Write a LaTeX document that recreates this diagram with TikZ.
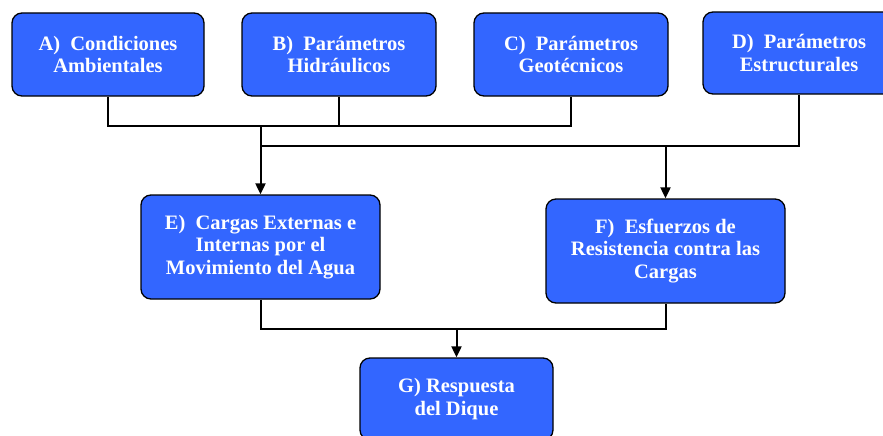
\documentclass[tikz,border=0pt]{standalone}
\usepackage{fontspec}
\setmainfont{Liberation Serif}
\usetikzlibrary{arrows.meta}
\definecolor{boxblue}{HTML}{3366FF}
\tikzset{
  blk/.style={draw=black, line width=1.3pt, fill=boxblue, rounded corners=10pt,
    text=white, font=\fontsize{20.5}{22.5}\selectfont\bfseries, align=center,
    inner sep=0pt, anchor=center},
  conn/.style={draw=black, line width=2pt},
  arr/.style={conn, -{Triangle[length=11pt,width=10pt]}},
}
\begin{document}
\begin{tikzpicture}[x=1pt,y=-1pt]
\useasboundingbox (0,0) rectangle (883,436);
\node[blk, minimum width=192pt, minimum height=83pt] (A) at (108,54.5) {A)~ Condiciones\\Ambientales};
\node[blk, minimum width=194pt, minimum height=83pt] (B) at (339,54.5) {B)~ Parámetros\\Hidráulicos};
\node[blk, minimum width=194pt, minimum height=83pt] (C) at (571,54.5) {C)~ Parámetros\\Geotécnicos};
\node[blk, minimum width=192pt, minimum height=82pt] (D) at (799,53) {D)~ Parámetros\\Estructurales};
\node[blk, minimum width=239pt, minimum height=104pt] (E) at (260.5,247) {E)~ Cargas Externas e\\Internas por el\\Movimiento del Agua};
\node[blk, minimum width=239pt, minimum height=104pt] (F) at (665.5,251) {F)~ Esfuerzos de\\Resistencia contra las\\Cargas};
\node[blk, minimum width=193pt, minimum height=82pt] (G) at (456.5,399) {G) Respuesta\\del Dique};
\coordinate (j1) at (260.5,126);
\coordinate (j2) at (260.5,146);
\coordinate (j3) at (456.5,329);
\draw[conn] (A.south) -- (A.south |- j1) -- (C.south |- j1) -- (C.south);
\draw[conn] (B.south) -- (B.south |- j1);
\draw[arr] (j1) -- (E.north);
\draw[conn] (j2) -- (D.south |- j2) -- (D.south);
\draw[arr] (F.north |- j2) -- (F.north);
\draw[conn] (E.south) -- (E.south |- j3) -- (F.south |- j3) -- (F.south);
\draw[arr] (j3) -- (G.north);
\end{tikzpicture}
\end{document}
